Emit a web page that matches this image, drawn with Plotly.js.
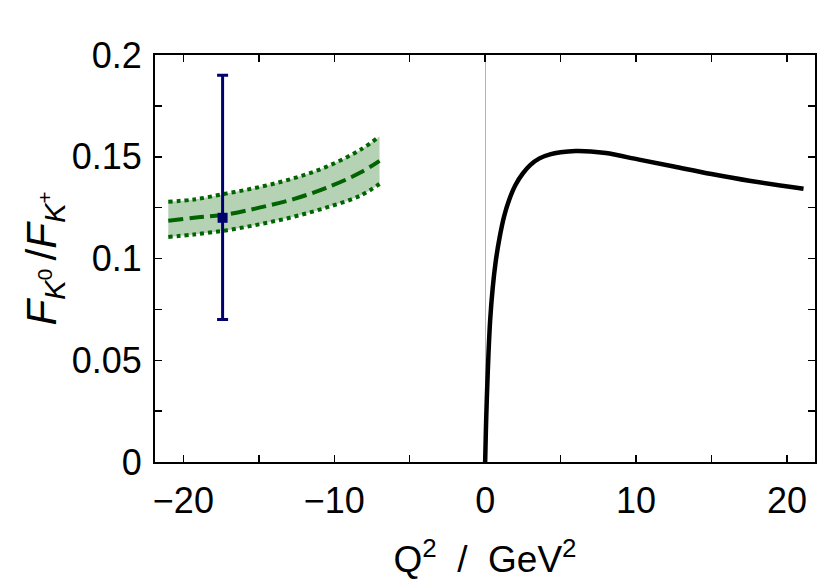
<!DOCTYPE html>
<html>
<head>
<meta charset="utf-8">
<script src="https://cdn.plot.ly/plotly-3.0.1.min.js"></script>
<style>
  html, body { margin: 0; padding: 0; background: #fff; }
  #chart { width: 825px; height: 588px; }
</style>
</head>
<body>
<div id="chart"></div>
<script>
// Ratio of neutral to charged kaon form factor, spacelike band vs timelike curve

// Timelike prediction (Q^2 > 0)
const curveQ2  = [0, 0.05, 0.11, 0.22, 0.33, 0.5, 0.7, 0.95, 1.25, 1.6, 2.0, 2.5, 3.0, 3.6, 4.3, 5.0, 6.0, 7.0, 8.0, 10.2, 12.5, 15.0, 17.5, 21.1];
const curveVal = [0, 0.016, 0.031, 0.053, 0.0695, 0.0855, 0.0985, 0.110, 0.1205, 0.129, 0.136, 0.1418, 0.1460, 0.1492, 0.1512, 0.1522, 0.1528, 0.1526, 0.1518, 0.1486, 0.1452, 0.1415, 0.1382, 0.1343];

// Spacelike band (Q^2 < 0): central value and upper/lower edges
const bandQ2     = [-21.0, -19.3, -17.1, -14.9, -12.7, -10.5, -8.3, -7.0];
const bandCenter = [0.1185, 0.1200, 0.1217, 0.1251, 0.1292, 0.1348, 0.1421, 0.1480];
const bandUpper  = [0.1279, 0.1290, 0.1320, 0.1352, 0.1394, 0.1451, 0.1533, 0.1600];
const bandLower  = [0.1106, 0.1118, 0.1139, 0.1169, 0.1205, 0.1251, 0.1308, 0.1366];

// Measured point with asymmetric uncertainty
const pointQ2   = [-17.4];
const pointVal  = [0.12];
const pointErrU = [0.07];
const pointErrD = [0.05];

// Axis ticks: labelled major ticks plus unlabelled minor ticks
const xTickVals  = [-20, -10, 0, 10, 20];
const xTickText  = ['\u221220', '\u221210', '0', '10', '20'];
const xMinorVals = [-15, -5, 5, 15];
const yTickVals  = [0, 0.05, 0.1, 0.15, 0.2];
const yTickText  = ['0', '0.05', '0.1', '0.15', '0.2'];
const yMinorVals = [0.025, 0.075, 0.125, 0.175];

const green = '#006400';
const navy = '#00006e';
const FONT = 'Liberation Sans, Arial, Helvetica, sans-serif';

const traces = [
  {
    x: bandQ2, y: bandLower, type: 'scatter', mode: 'lines',
    line: { color: green, width: 4, dash: '4px,4px', shape: 'spline' },
    hoverinfo: 'skip', showlegend: false
  },
  {
    x: bandQ2, y: bandUpper, type: 'scatter', mode: 'lines',
    fill: 'tonexty', fillcolor: 'rgba(0,100,0,0.29)',
    line: { color: green, width: 4, dash: '4px,4px', shape: 'spline' },
    hoverinfo: 'skip', showlegend: false
  },
  {
    x: bandQ2, y: bandCenter, type: 'scatter', mode: 'lines',
    line: { color: green, width: 4, dash: '15px,6px', shape: 'spline' },
    hoverinfo: 'skip', showlegend: false
  },
  {
    x: curveQ2, y: curveVal, type: 'scatter', mode: 'lines',
    line: { color: '#000000', width: 4.5, shape: 'spline', smoothing: 1 },
    showlegend: false
  },
  {
    x: pointQ2, y: pointVal, type: 'scatter', mode: 'markers',
    marker: { symbol: 'square', size: 10, color: navy },
    error_y: {
      type: 'data', symmetric: false, array: pointErrU, arrayminus: pointErrD,
      visible: true, color: navy, thickness: 3, width: 5.5
    },
    showlegend: false
  }
];

const axisCommon = {
  showgrid: false,
  showline: true,
  linecolor: '#000',
  linewidth: 2,
  mirror: 'allticks',
  ticks: 'inside',
  ticklen: 7,
  tickwidth: 1.5,
  tickcolor: '#000',
  tickfont: { family: FONT, size: 36, color: '#000' }
};

const minorCommon = {
  tickmode: 'array',
  ticks: 'inside',
  ticklen: 7,
  tickwidth: 1.5,
  tickcolor: '#000',
  showgrid: false
};

const layout = {
  width: 825,
  height: 588,
  margin: { l: 155, r: 10, t: 55, b: 126 },
  paper_bgcolor: '#fff',
  plot_bgcolor: '#fff',
  font: { family: FONT, color: '#000' },
  xaxis: Object.assign({}, axisCommon, {
    range: [-21.88, 21.86],
    tickmode: 'array', tickvals: xTickVals, ticktext: xTickText,
    minor: Object.assign({}, minorCommon, { tickvals: xMinorVals }),
    zeroline: true, zerolinecolor: '#b4b4b4', zerolinewidth: 1,
    ticklabelstandoff: 6,
    title: {
      text: 'Q<sup>2</sup>\u00a0\u00a0/\u00a0\u00a0GeV<sup>2</sup>',
      font: { family: FONT, size: 37 }, standoff: 26
    }
  }),
  yaxis: Object.assign({}, axisCommon, {
    range: [0, 0.2],
    tickmode: 'array', tickvals: yTickVals, ticktext: yTickText,
    minor: Object.assign({}, minorCommon, { tickvals: yMinorVals }),
    zeroline: false,
    ticklabelstandoff: 4,
    title: {
      text: '<i>F</i><sub><i>K</i><sup>0</sup></sub>\u2009/<i>F</i><sub><i>K</i><sup>+</sup></sub>',
      font: { family: FONT, size: 42 }, standoff: 2
    }
  })
};

Plotly.newPlot('chart', traces, layout, { staticPlot: true, displayModeBar: false });
</script>
</body>
</html>
